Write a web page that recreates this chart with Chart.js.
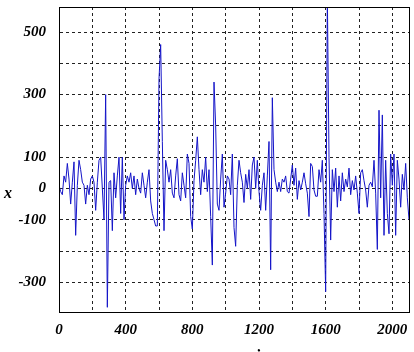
<!DOCTYPE html>
<html>
<head>
<meta charset="utf-8">
<script src="https://cdn.jsdelivr.net/npm/chart.js@4/dist/chart.umd.min.js"></script>
<style>
  html, body { margin: 0; padding: 0; background: #fff; }
  #wrap { width: 414px; height: 352px; }
</style>
</head>
<body>
<div id="wrap"><canvas id="signal" width="414" height="352"></canvas></div>
<script>
// sample step along i
const step = 10;

// x(i), every 10 samples (rows of 100)
const xValues = [
  10, -10, -20, 40, 20, 80, 30, -50, 20, 85,          // 0
  -150, 10, 90, 60, 20, 10, -50, 10, -20, 30,         // 100
  40, 20, -70, 20, 90, 100, 0, -100, 300, -380,       // 200
  20, 25, -135, 50, -30, 40, 100, -80, 100, -100,     // 300
  10, 40, 20, 50, 0, 40, -20, 30, 0, -15,             // 400
  50, 10, -30, 20, 60, -40, -80, -100, -120, -120,    // 500
  350, 460, 150, -135, 90, 60, 20, 60, -15, -30,      // 600
  40, 95, -20, -40, 50, 10, -30, 110, 80, -90,        // 700
  -130, 25, 90, 165, 60, -20, 60, 20, 100, -10,       // 800
  60, -90, -245, 340, 200, -50, -70, 30, 110, -60,    // 900
  -15, 40, 30, -20, 110, -125, -185, 10, 90, 50,      // 1000
  20, -45, 45, 0, 60, -35, 75, 100, 0, 90,            // 1100
  -10, -70, 10, 50, -70, 40, 150, -260, 290, 60,      // 1200
  20, -10, 20, -10, 30, 20, 40, -10, -15, 30,         // 1300
  75, 10, 65, -35, 25, -5, 20, 50, 15, -15,           // 1400
  -90, 80, 70, -5, -25, -25, 60, 20, 90, -80,         // 1500
  -330, 620, 100, -165, 60, -10, 65, -60, 40, -40,    // 1600
  50, -10, 30, 5, 65, -20, 25, -5, 40, -15,           // 1700
  -80, 50, 60, 25, -5, -60, 10, 20, 5, 90,            // 1800
  -15, -195, 250, -30, 235, -150, 90, -80, -145, 110, // 1900
  10, 110, -150, 90, 30, -60, 45, -5, 80, -30,        // 2000
  -100                                                // 2100
];

// gridlines and the labels printed on them
const xGrid = [0, 200, 400, 600, 800, 1000, 1200, 1400, 1600, 1800, 2000];
const xTickLabels = [0, 400, 800, 1200, 1600, 2000];
const yGrid = [-300, -200, -100, 0, 100, 200, 300, 400, 500];
const yTickLabels = [-300, -100, 0, 100, 300, 500];

const points = xValues.map((v, k) => ({ x: k * step, y: v }));

const serif = "'Liberation Serif', 'Times New Roman', serif";
const tickFont = { family: serif, size: 15, style: 'italic', weight: 'bold' };

// axis letters and the closed frame round the plot
const decorations = {
  id: 'decorations',
  afterDraw(chart) {
    const c = chart.ctx;
    const a = chart.chartArea;
    c.save();
    c.strokeStyle = '#000';
    c.lineWidth = 1;
    c.strokeRect(Math.round(a.left) + 0.5, Math.round(a.top) + 0.5,
      Math.round(a.right - a.left), Math.round(a.bottom - a.top));
    c.fillStyle = '#000';
    c.font = 'italic bold 16px ' + serif;
    c.textAlign = 'center';
    c.textBaseline = 'alphabetic';
    c.fillText('x', 8, 198);
    c.fillText('i', 258, 361);
    c.restore();
  }
};

// keep the plot box where the reference has it
function noPad(axis) {
  axis.paddingTop = 0;
  axis.paddingBottom = 0;
  axis.paddingLeft = 0;
  axis.paddingRight = 0;
}

new Chart(document.getElementById('signal'), {
  type: 'line',
  data: {
    datasets: [{
      data: points,
      borderColor: 'rgb(20, 20, 200)',
      borderWidth: 1,
      pointRadius: 0,
      tension: 0
    }]
  },
  options: {
    responsive: false,
    animation: false,
    layout: { padding: { left: 0, right: 5, top: 7, bottom: 0 } },
    plugins: { legend: { display: false }, tooltip: { enabled: false } },
    scales: {
      x: {
        type: 'linear',
        min: 0,
        max: 2100,
        afterBuildTicks: axis => { axis.ticks = xGrid.map(v => ({ value: v })); },
        afterFit: axis => { axis.height = 40; noPad(axis); },
        ticks: {
          autoSkip: false,
          maxRotation: 0,
          padding: 9,
          color: '#000',
          font: tickFont,
          callback: v => xTickLabels.includes(v) ? String(v) : ''
        },
        grid: { color: '#222', lineWidth: 1, drawTicks: false },
        border: { display: true, color: '#000', width: 1, dash: [3, 3] }
      },
      y: {
        min: -395,
        max: 580,
        afterBuildTicks: axis => { axis.ticks = yGrid.map(v => ({ value: v })); },
        afterFit: axis => { axis.width = 59; noPad(axis); },
        ticks: {
          autoSkip: false,
          padding: 13,
          color: '#000',
          font: tickFont,
          callback: v => yTickLabels.includes(v) ? String(v) : ''
        },
        grid: { color: '#222', lineWidth: 1, drawTicks: false },
        border: { display: true, color: '#000', width: 1, dash: [3, 3] }
      }
    }
  },
  plugins: [decorations]
});
</script>
</body>
</html>
